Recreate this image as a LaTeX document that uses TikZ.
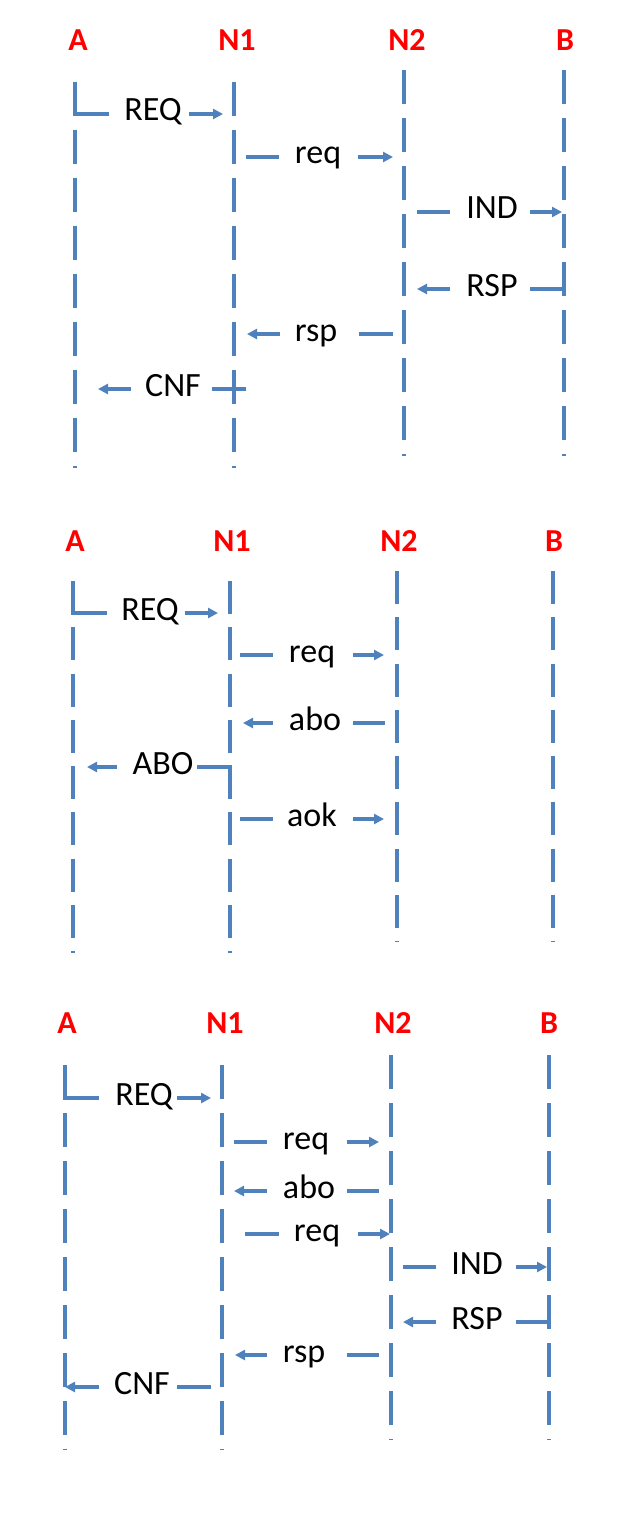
\documentclass[tikz,border=0pt]{standalone}
\usepackage{fontspec}
\setmainfont{Carlito}
\usetikzlibrary{arrows.meta}
\definecolor{lineblue}{HTML}{4F81BD}
\definecolor{labred}{HTML}{FF0000}
\tikzset{
  lifewide/.style={draw=lineblue, line width=3.5pt, dash pattern=on 34pt off 14pt},
  lifenarrow/.style={draw=lineblue, line width=3.5pt, dash pattern=on 33pt off 13.25pt},
  msgline/.style={draw=lineblue, line width=3.5pt},
  tipped/.style={-{Triangle[length=10pt,width=10pt]}},
  actor/.style={text=labred, font=\fontsize{32}{38}\selectfont\bfseries, inner sep=0pt},
  msgtext/.style={font=\fontsize{34}{40}\selectfont, inner sep=0pt, anchor=base},
}
% right-going message: name, y, x1, x2, text x, x3, x4, text
\newcommand\rmsg[8]{%
  \coordinate (#1-1) at (#3,#2); \coordinate (#1-2) at (#4,#2);
  \node[msgtext] (#1) at (#5,#2+7) {#8};
  \coordinate (#1-3) at (#6,#2); \coordinate (#1-4) at (#7,#2);
  \draw[msgline] (#1-1) -- (#1-2);
  \draw[msgline,tipped] (#1-3) -- (#1-4);}
% left-going message
\newcommand\lmsg[8]{%
  \coordinate (#1-1) at (#3,#2); \coordinate (#1-2) at (#4,#2);
  \node[msgtext] (#1) at (#5,#2+7) {#8};
  \coordinate (#1-3) at (#6,#2); \coordinate (#1-4) at (#7,#2);
  \draw[msgline,tipped] (#1-2) -- (#1-1);
  \draw[msgline] (#1-3) -- (#1-4);}
\begin{document}
\begin{tikzpicture}[x=1pt,y=-1pt]
\useasboundingbox (0,0) rectangle (625,1530);

% ---------- Panel 1 ----------
\node[actor] (pA1) at (78,40) {A};
\node[actor] (pN11) at (237,40) {N1};
\node[actor] (pN21) at (407,40) {N2};
\node[actor] (pB1) at (565,40) {B};
\coordinate (A1t) at (75,82);   \coordinate (A1b) at (75,468);
\coordinate (N11t) at (234,82); \coordinate (N11b) at (234,468);
\coordinate (N21t) at (404,70); \coordinate (N21b) at (404,456);
\coordinate (B1t) at (564,70);  \coordinate (B1b) at (564,456);
\draw[lifewide] (A1t) -- (A1b);
\draw[lifewide] (N11t) -- (N11b);
\draw[lifewide] (N21t) -- (N21b);
\draw[lifewide] (B1t) -- (B1b);
\rmsg{m11}{114}{73.25}{109}{153}{189}{223}{REQ}
\rmsg{m12}{157}{246}{279}{318}{358}{393}{req}
\rmsg{m13}{212}{417}{450}{492}{530}{562}{IND}
\lmsg{m14}{289}{417}{450}{492}{530}{565.75}{RSP}
\lmsg{m15}{334}{247}{280}{316}{359}{393}{rsp}
\lmsg{m16}{389}{98}{131}{173}{212}{246}{CNF}

% ---------- Panel 2 ----------
\node[actor] (pA2) at (75,541) {A};
\node[actor] (pN12) at (232,541) {N1};
\node[actor] (pN22) at (399,541) {N2};
\node[actor] (pB2) at (554,541) {B};
\coordinate (A2t) at (73,581);   \coordinate (A2b) at (73,953);
\coordinate (N12t) at (230,581); \coordinate (N12b) at (230,953);
\coordinate (N22t) at (397,571); \coordinate (N22b) at (397,942);
\coordinate (B2t) at (553,571);  \coordinate (B2b) at (553,942);
\draw[lifenarrow] (A2t) -- (A2b);
\draw[lifenarrow] (N12t) -- (N12b);
\draw[lifenarrow] (N22t) -- (N22b);
\draw[lifenarrow] (B2t) -- (B2b);
\rmsg{m21}{613}{71.25}{107}{150}{185}{218}{REQ}
\rmsg{m22}{655}{240}{273}{312}{353}{384}{req}
\lmsg{m23}{723}{243}{273}{315}{353}{385}{abo}
\lmsg{m24}{767}{87}{117}{163}{197}{231.75}{ABO}
\rmsg{m25}{819}{240}{273}{312}{353}{384}{aok}

% ---------- Panel 3 ----------
\node[actor] (pA3) at (67,1023) {A};
\node[actor] (pN13) at (225,1023) {N1};
\node[actor] (pN23) at (393,1023) {N2};
\node[actor] (pB3) at (549,1023) {B};
\coordinate (A3t) at (65,1065);   \coordinate (A3b) at (65,1450);
\coordinate (N13t) at (222,1065); \coordinate (N13b) at (222,1450);
\coordinate (N23t) at (391,1055); \coordinate (N23b) at (391,1440);
\coordinate (B3t) at (549,1055);  \coordinate (B3b) at (549,1440);
\draw[lifewide] (A3t) -- (A3b);
\draw[lifewide] (N13t) -- (N13b);
\draw[lifewide] (N23t) -- (N23b);
\draw[lifewide] (B3t) -- (B3b);
\rmsg{m31}{1098}{63.25}{99}{144}{177}{211}{REQ}
\rmsg{m32}{1142}{234}{267}{306}{347}{379}{req}
\lmsg{m33}{1191}{234}{267}{309}{347}{379}{abo}
\rmsg{m34}{1234}{245}{279}{317}{358}{390}{req}
\rmsg{m35}{1267}{403}{436}{477}{516}{547}{IND}
\lmsg{m36}{1322}{403}{436}{477}{516}{550.75}{RSP}
\lmsg{m37}{1355}{235}{267}{304}{347}{379}{rsp}
\lmsg{m38}{1387}{65}{99}{142}{177}{211}{CNF}
\end{tikzpicture}
\end{document}
